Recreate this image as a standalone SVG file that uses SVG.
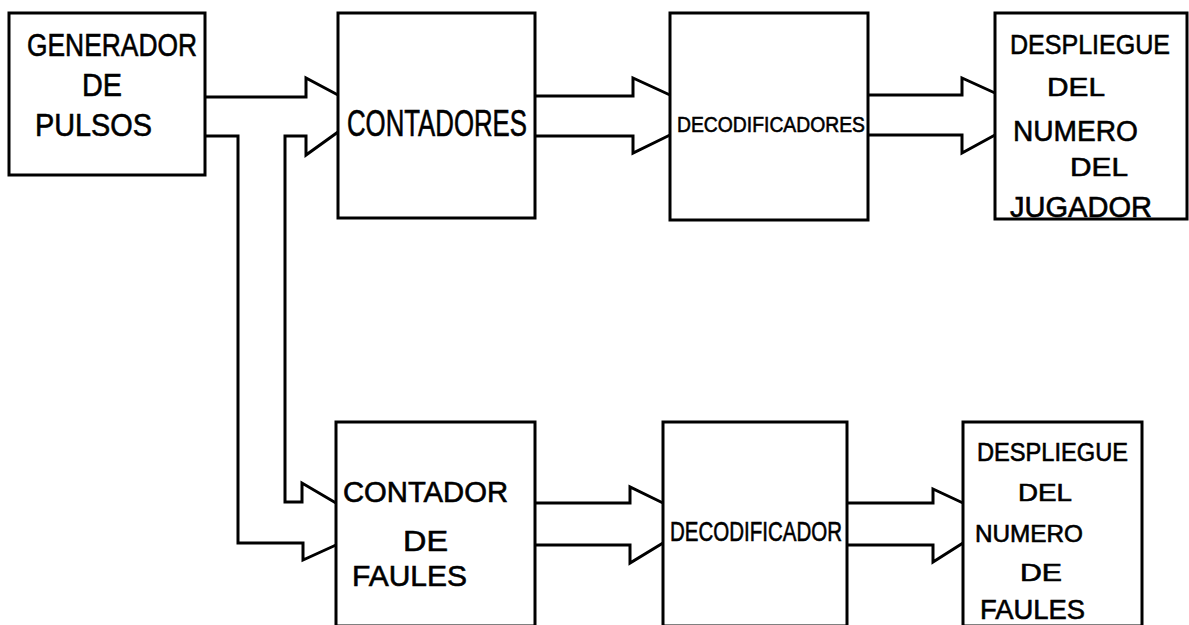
<svg xmlns="http://www.w3.org/2000/svg" width="1189" height="625" viewBox="0 0 1189 625">
<style>
.box{fill:none;stroke:#000;stroke-width:3;}
.wire{fill:none;stroke:#000;stroke-width:3;stroke-linejoin:miter;}
text{font-family:"Liberation Sans",Arial,sans-serif;fill:#000;stroke:#000;stroke-width:0.6;}
</style>
<rect width="1189" height="625" fill="#fff"/>
<g id="generador">
<rect class="box" x="9" y="13" width="196" height="162"/>
<text x="27" y="56" font-size="32" textLength="170" lengthAdjust="spacingAndGlyphs">GENERADOR</text>
<text x="82" y="96" font-size="32" textLength="40" lengthAdjust="spacingAndGlyphs">DE</text>
<text x="35" y="136" font-size="32" textLength="117" lengthAdjust="spacingAndGlyphs">PULSOS</text>
</g>
<g id="contadores">
<rect class="box" x="338" y="13" width="197" height="205"/>
<text x="347" y="136" font-size="36" textLength="180" lengthAdjust="spacingAndGlyphs">CONTADORES</text>
</g>
<g id="decodificadores">
<rect class="box" x="670" y="13" width="198" height="207"/>
<text x="677" y="132" font-size="22" textLength="188" lengthAdjust="spacingAndGlyphs">DECODIFICADORES</text>
</g>
<g id="despliegue-jugador">
<rect class="box" x="995" y="13" width="192" height="206"/>
<text x="1010" y="54" font-size="28" textLength="160" lengthAdjust="spacingAndGlyphs">DESPLIEGUE</text>
<text x="1047" y="96" font-size="26" textLength="58" lengthAdjust="spacingAndGlyphs">DEL</text>
<text x="1013" y="141" font-size="30" textLength="125" lengthAdjust="spacingAndGlyphs">NUMERO</text>
<text x="1070" y="176" font-size="26" textLength="58" lengthAdjust="spacingAndGlyphs">DEL</text>
<text x="1010" y="217" font-size="29" textLength="142" lengthAdjust="spacingAndGlyphs">JUGADOR</text>
</g>
<g id="contador-faules">
<rect class="box" x="336" y="422" width="199" height="204"/>
<text x="343" y="502" font-size="29" textLength="165" lengthAdjust="spacingAndGlyphs">CONTADOR</text>
<text x="403" y="551" font-size="30" textLength="45" lengthAdjust="spacingAndGlyphs">DE</text>
<text x="352" y="586" font-size="30" textLength="115" lengthAdjust="spacingAndGlyphs">FAULES</text>
</g>
<g id="decodificador">
<rect class="box" x="663" y="422" width="184" height="204"/>
<text x="670" y="541" font-size="28" textLength="172" lengthAdjust="spacingAndGlyphs">DECODIFICADOR</text>
</g>
<g id="despliegue-faules">
<rect class="box" x="963" y="422" width="179" height="204"/>
<text x="977" y="461" font-size="25" textLength="151" lengthAdjust="spacingAndGlyphs">DESPLIEGUE</text>
<text x="1018" y="501" font-size="24" textLength="54" lengthAdjust="spacingAndGlyphs">DEL</text>
<text x="975" y="542" font-size="24" textLength="108" lengthAdjust="spacingAndGlyphs">NUMERO</text>
<text x="1020" y="581" font-size="23" textLength="42" lengthAdjust="spacingAndGlyphs">DE</text>
<text x="980" y="619" font-size="27" textLength="105" lengthAdjust="spacingAndGlyphs">FAULES</text>
</g>
<g id="connectors">
<path class="wire" d="M205,97 H306 V78 L338,95"/>
<path class="wire" d="M205,136 H238 V543 H303 V560 L336,545"/>
<path class="wire" d="M338,132 L306,155 V136 H285 V502 H302 V483 L336,503"/>
<path class="wire" d="M535,96 H633 V78 L670,95"/>
<path class="wire" d="M535,136 H633 V153 L670,135"/>
<path class="wire" d="M868,95 H962 V78 L995,93"/>
<path class="wire" d="M868,135 H962 V153 L995,135"/>
<path class="wire" d="M535,503 H630 V487 L663,503"/>
<path class="wire" d="M535,545 H630 V563 L663,543"/>
<path class="wire" d="M847,503 H933 V489 L963,503"/>
<path class="wire" d="M847,545 H933 V562 L963,543"/>
</g>
</svg>
